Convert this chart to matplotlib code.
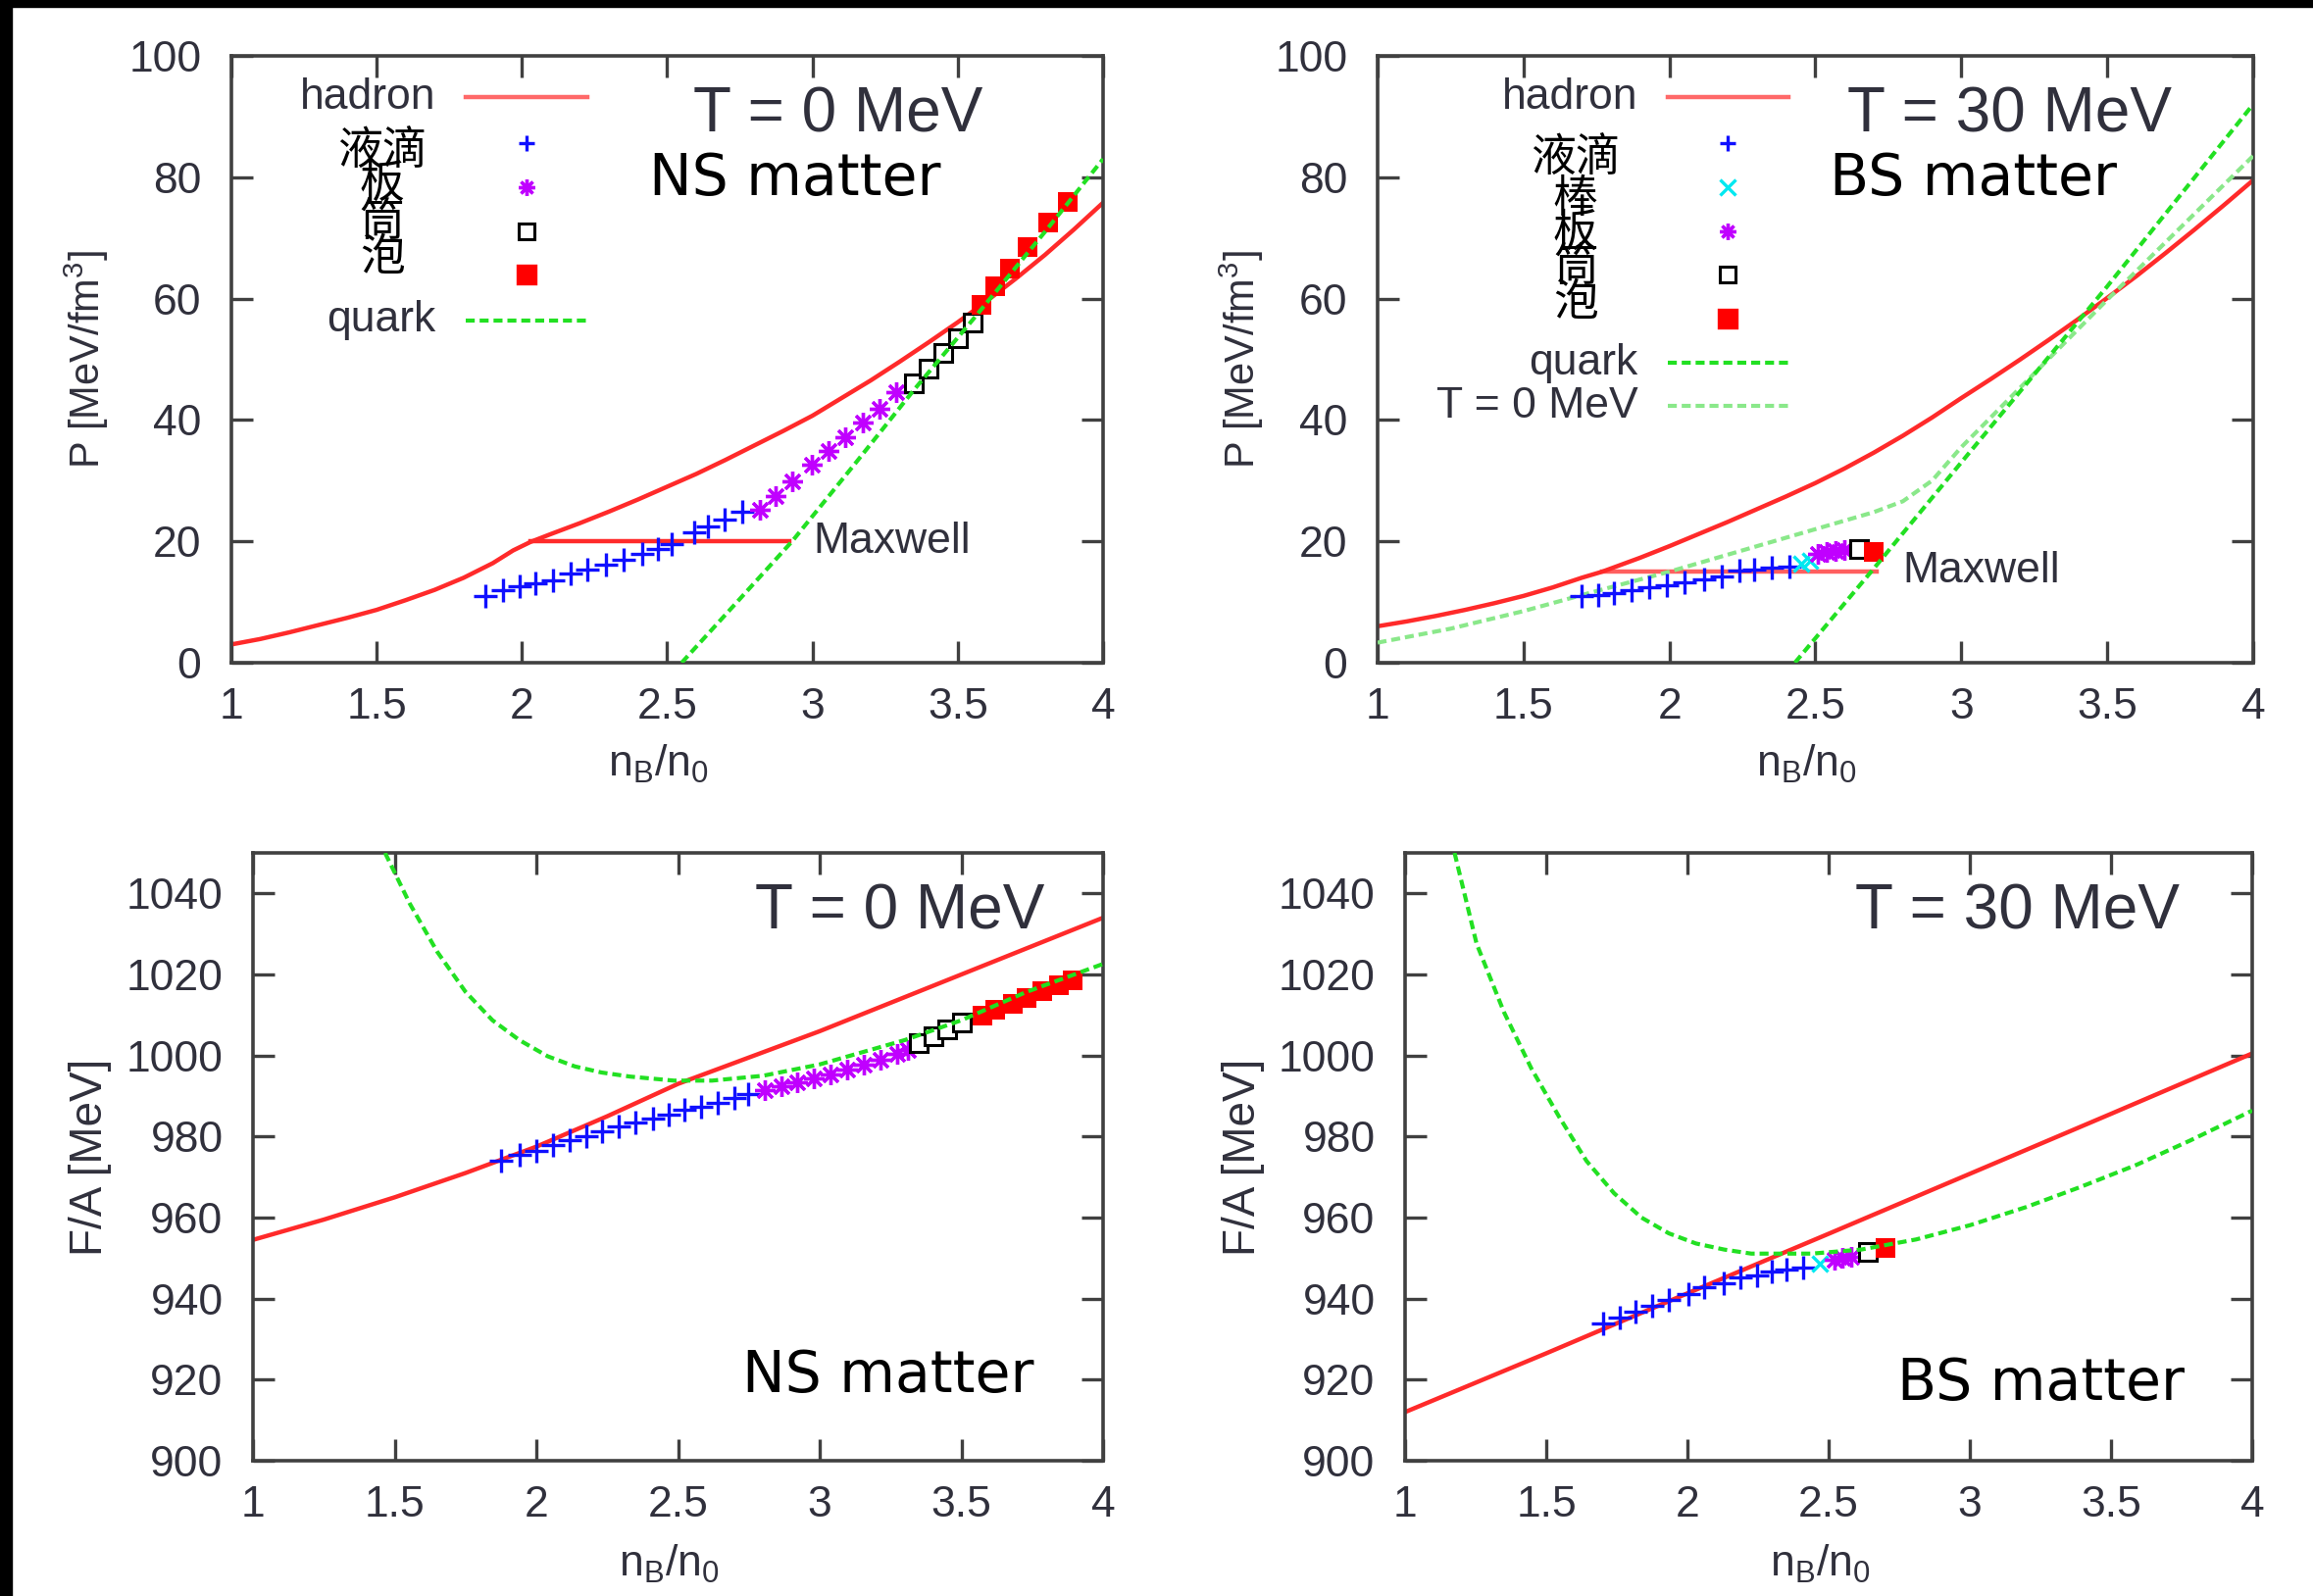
import matplotlib.pyplot as plt
from matplotlib.patches import Rectangle

plt.rcParams['font.family'] = ['Liberation Sans', 'DejaVu Sans']

# ---------- T = 0 MeV, NS matter : pressure ----------
p0_had_x = [1.0, 1.1, 1.2, 1.3, 1.4, 1.5, 1.6, 1.7, 1.8, 1.9, 1.97, 2.03, 2.1, 2.2, 2.3, 2.4, 2.5,
            2.6, 2.7, 2.8, 2.9, 3.0, 3.1, 3.2, 3.3, 3.4, 3.5, 3.6, 3.7, 3.8, 3.9, 4.0]
p0_had_y = [3.0, 3.9, 5.0, 6.2, 7.4, 8.7, 10.3, 12.0, 14.0, 16.4, 18.5, 19.9, 21.2, 23.0, 24.9, 26.9,
            29.0, 31.1, 33.4, 35.8, 38.2, 40.7, 43.6, 46.5, 49.6, 52.8, 56.1, 59.6, 63.3, 67.2, 71.4, 75.8]
p0_max_x = [2.03, 2.92]
p0_max_y = [20.0, 20.0]
p0_qrk_x = [2.55, 2.75, 2.93, 3.15, 3.35, 3.56, 3.8, 4.0]
p0_qrk_y = [0.0, 10.5, 20.0, 33.0, 45.0, 57.0, 71.0, 83.0]
p0_drop_x = [1.875, 1.936, 1.994, 2.048, 2.106, 2.168, 2.226, 2.288, 2.351, 2.415, 2.467, 2.515,
             2.593, 2.641, 2.699, 2.757]
p0_drop_y = [10.9, 11.9, 12.6, 13.1, 13.6, 14.7, 15.4, 16.1, 16.9, 18.0, 18.8, 19.5,
             21.5, 22.5, 23.5, 24.8]
p0_slab_x = [2.82, 2.873, 2.93, 2.998, 3.056, 3.114, 3.172, 3.23, 3.288]
p0_slab_y = [25.2, 27.5, 29.9, 32.6, 34.9, 37.2, 39.6, 41.9, 44.6]
p0_tube_x = [3.35, 3.40, 3.45, 3.50, 3.55]
p0_tube_y = [46.0, 48.5, 51.0, 53.5, 56.0]
p0_bub_x = [3.58, 3.63, 3.68, 3.74, 3.81, 3.88]
p0_bub_y = [59.0, 62.0, 65.0, 68.5, 72.5, 76.0]

# ---------- T = 30 MeV, BS matter : pressure ----------
p30_had_x = [1.0, 1.1, 1.2, 1.3, 1.4, 1.5, 1.6, 1.7, 1.77, 1.9, 2.0, 2.1, 2.2, 2.3, 2.4, 2.5, 2.6,
             2.7, 2.8, 2.9, 3.0, 3.1, 3.2, 3.3, 3.4, 3.5, 3.6, 3.7, 3.8, 3.9, 4.0]
p30_had_y = [6.0, 6.8, 7.7, 8.7, 9.8, 11.0, 12.4, 14.0, 15.0, 17.3, 19.2, 21.2, 23.2, 25.3, 27.4,
             29.6, 32.0, 34.6, 37.4, 40.4, 43.6, 46.7, 49.9, 53.2, 56.6, 60.1, 63.7, 67.5, 71.4,
             75.4, 79.5]
p30_max_x = [1.77, 2.71]
p30_max_y = [15.0, 15.0]
p30_qrk_x = [2.43, 2.7, 3.0, 3.5, 4.0]
p30_qrk_y = [0.0, 15.5, 33.0, 62.0, 92.0]
p30_t0_x = [1.0, 1.25, 1.5, 1.75, 2.0, 2.25, 2.5, 2.7, 2.8, 2.9, 3.0, 3.5, 4.0]
p30_t0_y = [3.3, 5.6, 8.5, 11.8, 15.0, 18.5, 22.0, 24.8, 26.6, 30.0, 35.5, 59.8, 83.5]
p30_drop_x = [1.70, 1.755, 1.81, 1.87, 1.93, 1.99, 2.05, 2.12, 2.18, 2.24, 2.29, 2.35, 2.41]
p30_drop_y = [10.9, 11.1, 11.4, 11.9, 12.4, 12.75, 13.2, 13.8, 14.2, 15.1, 15.4, 15.6, 15.9]
p30_rod_x = [2.45, 2.48]
p30_rod_y = [16.3, 16.8]
p30_slab_x = [2.51, 2.54, 2.57, 2.60]
p30_slab_y = [18.0, 18.2, 18.4, 18.5]
p30_tube_x = [2.65]
p30_tube_y = [18.8]
p30_bub_x = [2.70]
p30_bub_y = [18.2]

# ---------- T = 0 MeV, NS matter : free energy per baryon ----------
f0_had_x = [1.0, 1.25, 1.5, 1.75, 2.0, 2.25, 2.5, 2.75, 3.0, 3.25, 3.5, 3.75, 4.0]
f0_had_y = [954.5, 959.5, 965.0, 971.0, 977.5, 985.0, 993.0, 999.5, 1006.0, 1013.0, 1020.0, 1027.0, 1034.0]
f0_qrk_x = [1.466, 1.553, 1.65, 1.75, 1.845, 1.94, 2.04, 2.136, 2.23, 2.33, 2.485, 2.62, 2.8,
            3.0, 3.1, 3.3, 3.5, 3.73, 4.0]
f0_qrk_y = [1050.0, 1037.5, 1025.6, 1015.7, 1008.7, 1003.8, 999.8, 997.3, 995.8, 994.8, 993.8,
            993.8, 995.0, 997.8, 999.8, 1003.8, 1008.7, 1015.7, 1022.6]
f0_drop_x = [1.874, 1.942, 2.0, 2.058, 2.117, 2.175, 2.233, 2.29, 2.35, 2.41, 2.466, 2.524,
             2.58, 2.64, 2.70, 2.748]
f0_drop_y = [974.0, 975.5, 976.5, 977.8, 979.0, 980.0, 981.2, 982.5, 983.5, 984.5, 985.5, 986.7,
             987.4, 988.4, 989.4, 990.4]
f0_slab_x = [2.806, 2.864, 2.922, 2.98, 3.039, 3.097, 3.155, 3.214, 3.272, 3.31]
f0_slab_y = [991.4, 992.4, 993.3, 994.3, 995.3, 996.5, 997.8, 999.0, 1000.3, 1001.3]
f0_tube_x = [3.35, 3.40, 3.45, 3.50]
f0_tube_y = [1003.0, 1004.8, 1006.5, 1008.2]
f0_bub_x = [3.573, 3.62, 3.68, 3.73, 3.786, 3.845, 3.893]
f0_bub_y = [1009.8, 1011.3, 1012.8, 1014.3, 1015.8, 1017.3, 1018.6]

# ---------- T = 30 MeV, BS matter : free energy per baryon ----------
f30_had_x = [1.0, 1.5, 2.0, 2.5, 3.0, 3.5, 4.0]
f30_had_y = [912.0, 926.5, 941.3, 956.0, 970.8, 985.6, 1000.5]
f30_qrk_x = [1.175, 1.253, 1.35, 1.447, 1.545, 1.642, 1.74, 1.837, 1.934, 2.03, 2.13, 2.226,
             2.32, 2.44, 2.615, 2.81, 3.0, 3.2, 3.39, 3.59, 3.78, 4.0]
f30_qrk_y = [1050.0, 1027.6, 1010.7, 996.8, 984.9, 974.0, 966.0, 960.0, 956.1, 953.6, 952.1, 951.1,
             951.1, 951.1, 952.1, 954.6, 958.1, 962.6, 967.5, 973.0, 979.0, 986.4]
f30_drop_x = [1.70, 1.759, 1.817, 1.875, 1.934, 2.002, 2.06, 2.128, 2.187, 2.245, 2.30, 2.35, 2.41]
f30_drop_y = [933.8, 935.3, 936.8, 938.3, 939.7, 941.2, 942.7, 943.7, 945.2, 945.7, 946.7, 947.2, 947.7]
f30_rod_x = [2.47]
f30_rod_y = [948.7]
f30_slab_x = [2.52, 2.55, 2.58]
f30_slab_y = [949.7, 950.1, 950.3]
f30_tube_x = [2.64]
f30_tube_y = [951.6]
f30_bub_x = [2.70]
f30_bub_y = [952.6]

x_ticks = [1, 1.5, 2, 2.5, 3, 3.5, 4]
x_tick_labels = ['1', '1.5', '2', '2.5', '3', '3.5', '4']
p_ticks = [0, 20, 40, 60, 80, 100]
f_ticks = [900, 920, 940, 960, 980, 1000, 1020, 1040]

RED = '#ff2a2a'
GREEN = '#22e022'
PALE = '#8ae88a'
BLUE = '#1010ff'
PURPLE = '#c000ff'
CYAN = '#00e8f0'
TXT = '#30303c'
FRAME = '#404040'
DASH = (0, (2.2, 1.2))

fig = plt.figure(figsize=(23.59, 16.28), dpi=100)
ax_tl = fig.add_axes([0.1000, 0.5848, 0.3769, 0.3802])
ax_tr = fig.add_axes([0.5956, 0.5848, 0.3785, 0.3802])
ax_bl = fig.add_axes([0.1094, 0.0848, 0.3675, 0.3808])
ax_br = fig.add_axes([0.6075, 0.0848, 0.3662, 0.3808])


def style(ax, yticks, ylim, ylabel, ylab_x, ylab_size, xlab_y):
    ax.set_xlim(1, 4)
    ax.set_ylim(*ylim)
    ax.set_xticks(x_ticks)
    ax.set_xticklabels(x_tick_labels)
    ax.set_yticks(yticks)
    ax.tick_params(direction='in', length=16, width=2.4, color=FRAME, labelsize=32,
                   labelcolor=TXT, top=True, right=True)
    ax.tick_params(axis='x', pad=18)
    ax.tick_params(axis='y', pad=22)
    for s in ax.spines.values():
        s.set_linewidth(2.6)
        s.set_color(FRAME)
    ax.set_xlabel('n$_\\mathregular{B}$/n$_\\mathregular{0}$', fontsize=32, color=TXT)
    ax.set_ylabel(ylabel, fontsize=ylab_size, color=TXT)
    ax.xaxis.set_label_coords(0.49, xlab_y)
    ax.yaxis.set_label_coords(ylab_x, 0.5)


def markers(ax, d, rod=None):
    ax.plot(d[0], d[1], ls='none', marker='+', ms=17, mew=2.4, color=BLUE, zorder=4)
    if rod is not None:
        ax.plot(rod[0], rod[1], ls='none', marker='x', ms=12, mew=2.4, color=CYAN, zorder=4)
    ax.plot(d[2], d[3], ls='none', marker=(8, 2, 0), ms=15, mew=2.4, color=PURPLE, zorder=4)
    ax.plot(d[4], d[5], ls='none', marker='s', ms=13, mew=2.2, mfc='white', mec='black', zorder=4)
    ax.plot(d[6], d[7], ls='none', marker='s', ms=14, mew=0, color='#ff0000', zorder=4)


def legend(ax, x_txt, x_l0, x_l1, rows, cjk, cjk_x, extra=None):
    T = ax.transAxes
    ax.text(x_txt, rows[0], 'hadron', transform=T, ha='right', va='center', fontsize=32, color=TXT)
    ax.plot([x_l0, x_l1], [rows[0], rows[0]], transform=T, color=RED, lw=3.2, alpha=0.7)
    xm = (x_l0 + x_l1) / 2
    for (m, c, ms, fill), y in zip(rows[1], rows[2]):
        if fill == 'open':
            ax.plot([xm], [y], transform=T, marker=m, ms=ms, mew=2.2, mfc='white', mec='black', ls='none')
        else:
            ax.plot([xm], [y], transform=T, marker=m, ms=ms, mew=2.4, color=c, ls='none')
    ax.text(x_txt, rows[3], 'quark', transform=T, ha='right', va='center', fontsize=32, color=TXT)
    ax.plot([x_l0, x_l1], [rows[3], rows[3]], transform=T, color=GREEN, lw=3, ls=DASH)
    if extra is not None:
        ax.text(x_txt, extra, 'T = 0 MeV', transform=T, ha='right', va='center', fontsize=32, color=TXT)
        ax.plot([x_l0, x_l1], [extra, extra], transform=T, color=PALE, lw=3, ls=DASH)
    for s, y in zip(cjk, rows[4]):
        ax.text(cjk_x, y, s, transform=T, ha='center', va='center', fontsize=33, color='black',
                family=['Noto Sans CJK SC', 'DejaVu Sans'])


# ---------------- top left ----------------
ax = ax_tl
style(ax, p_ticks, (0, 100), 'P [MeV/fm$^\\mathregular{3}$]', -0.138, 30, -0.133)
ax.plot(p0_had_x, p0_had_y, color=RED, lw=3.2)
ax.plot(p0_max_x, p0_max_y, color=RED, lw=3.2)
ax.plot(p0_qrk_x, p0_qrk_y, color=GREEN, lw=3, ls=DASH, zorder=5)
markers(ax, [p0_drop_x, p0_drop_y, p0_slab_x, p0_slab_y, p0_tube_x, p0_tube_y, p0_bub_x, p0_bub_y])
ax.text(0.667, 0.2, 'Maxwell', transform=ax.transAxes, ha='left', va='center', fontsize=32, color=TXT)
legend(ax, 0.235, 0.269, 0.408,
       [0.932,
        [('+', BLUE, 12, 'fill'), ((8, 2, 0), PURPLE, 12, 'fill'), ('s', 'k', 12, 'open'), ('s', '#ff0000', 13, 'fill')],
        [0.856, 0.783, 0.710, 0.640], 0.564, [0.844, 0.789, 0.725, 0.668]],
       ['液滴', '板', '筒', '泡'], 0.173)
ax.text(0.53, 0.903, 'T = 0 MeV', transform=ax.transAxes, ha='left', va='center', fontsize=46, color=TXT)
ax.text(0.479, 0.798, 'NS matter', transform=ax.transAxes, ha='left', va='center', fontsize=42,
        color='black', family='DejaVu Sans')

# ---------------- top right ----------------
ax = ax_tr
style(ax, p_ticks, (0, 100), 'P [MeV/fm$^\\mathregular{3}$]', -0.128, 30, -0.133)
ax.plot(p30_had_x, p30_had_y, color=RED, lw=3.2)
ax.plot(p30_max_x, p30_max_y, color=RED, lw=3.2, alpha=0.75)
ax.plot(p30_qrk_x, p30_qrk_y, color=GREEN, lw=3, ls=DASH, zorder=5)
ax.plot(p30_t0_x, p30_t0_y, color=PALE, lw=3, ls=DASH, zorder=3)
markers(ax, [p30_drop_x, p30_drop_y, p30_slab_x, p30_slab_y, p30_tube_x, p30_tube_y, p30_bub_x, p30_bub_y],
        rod=[p30_rod_x, p30_rod_y])
ax.text(0.600, 0.151, 'Maxwell', transform=ax.transAxes, ha='left', va='center', fontsize=32, color=TXT)
legend(ax, 0.297, 0.331, 0.469,
       [0.932,
        [('+', BLUE, 12, 'fill'), ('x', CYAN, 11, 'fill'), ((8, 2, 0), PURPLE, 12, 'fill'),
         ('s', 'k', 12, 'open'), ('s', '#ff0000', 13, 'fill')],
        [0.856, 0.783, 0.710, 0.640, 0.567], 0.494, [0.832, 0.765, 0.708, 0.651, 0.594]],
       ['液滴', '棒', '板', '筒', '泡'], 0.226, extra=0.423)
ax.text(0.536, 0.903, 'T = 30 MeV', transform=ax.transAxes, ha='left', va='center', fontsize=46, color=TXT)
ax.text(0.516, 0.798, 'BS matter', transform=ax.transAxes, ha='left', va='center', fontsize=42,
        color='black', family='DejaVu Sans')

# ---------------- bottom left ----------------
ax = ax_bl
style(ax, f_ticks, (900, 1050), 'F/A [MeV]', -0.166, 33, -0.136)
ax.plot(f0_had_x, f0_had_y, color=RED, lw=3.2)
ax.plot(f0_qrk_x, f0_qrk_y, color=GREEN, lw=3, ls=DASH, zorder=5)
markers(ax, [f0_drop_x, f0_drop_y, f0_slab_x, f0_slab_y, f0_tube_x, f0_tube_y, f0_bub_x, f0_bub_y])
ax.text(0.59, 0.903, 'T = 0 MeV', transform=ax.transAxes, ha='left', va='center', fontsize=46, color=TXT)
ax.text(0.575, 0.139, 'NS matter', transform=ax.transAxes, ha='left', va='center', fontsize=42,
        color='black', family='DejaVu Sans')

# ---------------- bottom right ----------------
ax = ax_br
style(ax, f_ticks, (900, 1050), 'F/A [MeV]', -0.166, 33, -0.136)
ax.plot(f30_had_x, f30_had_y, color=RED, lw=3.2)
ax.plot(f30_qrk_x, f30_qrk_y, color=GREEN, lw=3, ls=DASH, zorder=5)
markers(ax, [f30_drop_x, f30_drop_y, f30_slab_x, f30_slab_y, f30_tube_x, f30_tube_y, f30_bub_x, f30_bub_y],
        rod=[f30_rod_x, f30_rod_y])
ax.text(0.531, 0.903, 'T = 30 MeV', transform=ax.transAxes, ha='left', va='center', fontsize=46, color=TXT)
ax.text(0.581, 0.127, 'BS matter', transform=ax.transAxes, ha='left', va='center', fontsize=42,
        color='black', family='DejaVu Sans')

# black strips on the top and left edge of the picture
fig.add_artist(Rectangle((0, 1 - 7 / 1628), 1, 7 / 1628, transform=fig.transFigure, color='black'))
fig.add_artist(Rectangle((0, 0), 12 / 2359, 1, transform=fig.transFigure, color='black'))

fig.savefig('out.png', dpi=100, facecolor='white')
